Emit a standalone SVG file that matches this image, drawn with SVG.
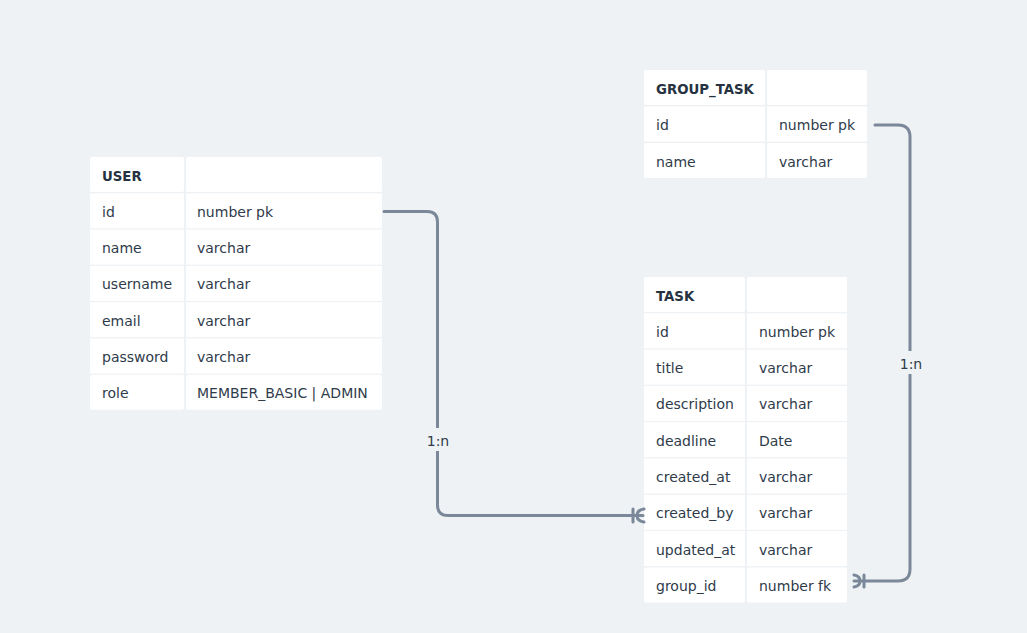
<svg xmlns="http://www.w3.org/2000/svg" width="1027" height="633" viewBox="0 0 1027 633">
<style>
.bg{fill:#eef2f5}
.cell{fill:#ffffff}
.t{font-family:"DejaVu Sans","Noto Sans",sans-serif;font-size:14px;fill:#2f3b4a}
.h{font-weight:bold;font-size:13.3px;fill:#263240}
.conn{fill:none;stroke:#7a8899;stroke-width:3;stroke-linecap:round}
.lblbg{fill:#eef2f5}
.lbl{font-family:"DejaVu Sans","Noto Sans",sans-serif;font-size:14px;fill:#2f3b4a;text-anchor:middle}
</style>
<rect class="bg" x="0" y="0" width="1027" height="633"/>

<g id="USER" transform="translate(0,1)">
<rect class="cell" x="90" y="156" width="94" height="35" rx="2"/><rect class="cell" x="186" y="156" width="196" height="35" rx="2"/>
<text class="t h" x="102" y="179.5">USER</text>
<rect class="cell" x="90" y="192.3" width="94" height="35"/><rect class="cell" x="186" y="192.3" width="196" height="35"/>
<text class="t" x="102" y="215.8">id</text><text class="t" x="197" y="215.8">number pk</text>
<rect class="cell" x="90" y="228.6" width="94" height="35"/><rect class="cell" x="186" y="228.6" width="196" height="35"/>
<text class="t" x="102" y="252.1">name</text><text class="t" x="197" y="252.1">varchar</text>
<rect class="cell" x="90" y="264.9" width="94" height="35"/><rect class="cell" x="186" y="264.9" width="196" height="35"/>
<text class="t" x="102" y="288.4">username</text><text class="t" x="197" y="288.4">varchar</text>
<rect class="cell" x="90" y="301.2" width="94" height="35"/><rect class="cell" x="186" y="301.2" width="196" height="35"/>
<text class="t" x="102" y="324.7">email</text><text class="t" x="197" y="324.7">varchar</text>
<rect class="cell" x="90" y="337.5" width="94" height="35"/><rect class="cell" x="186" y="337.5" width="196" height="35"/>
<text class="t" x="102" y="361">password</text><text class="t" x="197" y="361">varchar</text>
<rect class="cell" x="90" y="373.8" width="94" height="35" rx="2"/><rect class="cell" x="186" y="373.8" width="196" height="35" rx="2"/>
<text class="t" x="102" y="397.3">role</text><text class="t" x="197" y="397.3">MEMBER_BASIC | ADMIN</text>
</g>

<g id="GROUP_TASK" transform="translate(0,1)">
<rect class="cell" x="644" y="69" width="121" height="35" rx="2"/><rect class="cell" x="767" y="69" width="100" height="35" rx="2"/>
<text class="t h" x="656" y="92.5">GROUP_TASK</text>
<rect class="cell" x="644" y="105.5" width="121" height="35"/><rect class="cell" x="767" y="105.5" width="100" height="35"/>
<text class="t" x="656" y="129">id</text><text class="t" x="779" y="129">number pk</text>
<rect class="cell" x="644" y="142" width="121" height="35" rx="2"/><rect class="cell" x="767" y="142" width="100" height="35" rx="2"/>
<text class="t" x="656" y="165.5">name</text><text class="t" x="779" y="165.5">varchar</text>
</g>

<g id="TASK" transform="translate(0,1)">
<rect class="cell" x="644" y="276" width="101" height="35" rx="2"/><rect class="cell" x="747" y="276" width="100" height="35" rx="2"/>
<text class="t h" x="656" y="299.5">TASK</text>
<rect class="cell" x="644" y="312.3" width="101" height="35"/><rect class="cell" x="747" y="312.3" width="100" height="35"/>
<text class="t" x="656" y="335.8">id</text><text class="t" x="759" y="335.8">number pk</text>
<rect class="cell" x="644" y="348.6" width="101" height="35"/><rect class="cell" x="747" y="348.6" width="100" height="35"/>
<text class="t" x="656" y="372.1">title</text><text class="t" x="759" y="372.1">varchar</text>
<rect class="cell" x="644" y="384.9" width="101" height="35"/><rect class="cell" x="747" y="384.9" width="100" height="35"/>
<text class="t" x="656" y="408.4">description</text><text class="t" x="759" y="408.4">varchar</text>
<rect class="cell" x="644" y="421.2" width="101" height="35"/><rect class="cell" x="747" y="421.2" width="100" height="35"/>
<text class="t" x="656" y="444.7">deadline</text><text class="t" x="759" y="444.7">Date</text>
<rect class="cell" x="644" y="457.5" width="101" height="35"/><rect class="cell" x="747" y="457.5" width="100" height="35"/>
<text class="t" x="656" y="481">created_at</text><text class="t" x="759" y="481">varchar</text>
<rect class="cell" x="644" y="493.8" width="101" height="35"/><rect class="cell" x="747" y="493.8" width="100" height="35"/>
<text class="t" x="656" y="517.3">created_by</text><text class="t" x="759" y="517.3">varchar</text>
<rect class="cell" x="644" y="530.1" width="101" height="35"/><rect class="cell" x="747" y="530.1" width="100" height="35"/>
<text class="t" x="656" y="553.6">updated_at</text><text class="t" x="759" y="553.6">varchar</text>
<rect class="cell" x="644" y="566.4" width="101" height="35" rx="2"/><rect class="cell" x="747" y="566.4" width="100" height="35" rx="2"/>
<text class="t" x="656" y="589.9">group_id</text><text class="t" x="759" y="589.9">number fk</text>
</g>

<g id="connectors">
<path class="conn" d="M384,211.5 H427 Q437.5,211.5 437.5,222 V505 Q437.5,515.5 448,515.5 H643"/>
<path class="conn" d="M633,509 V522"/>
<path class="conn" d="M644,509 Q637,510 637,515.5 Q637,521 644,522"/>
<path class="conn" d="M875,125 H898 Q910,125 910,137 V569 Q910,581 898,581 H854"/>
<path class="conn" d="M864,575 V587"/>
<path class="conn" d="M854,575 Q860,576 860,581 Q860,586 854,587"/>
<rect class="lblbg" x="424" y="428" width="28" height="23"/>
<text class="lbl" x="438" y="446">1:n</text>
<rect class="lblbg" x="897" y="351" width="28" height="23"/>
<text class="lbl" x="911" y="369">1:n</text>
</g>
</svg>
